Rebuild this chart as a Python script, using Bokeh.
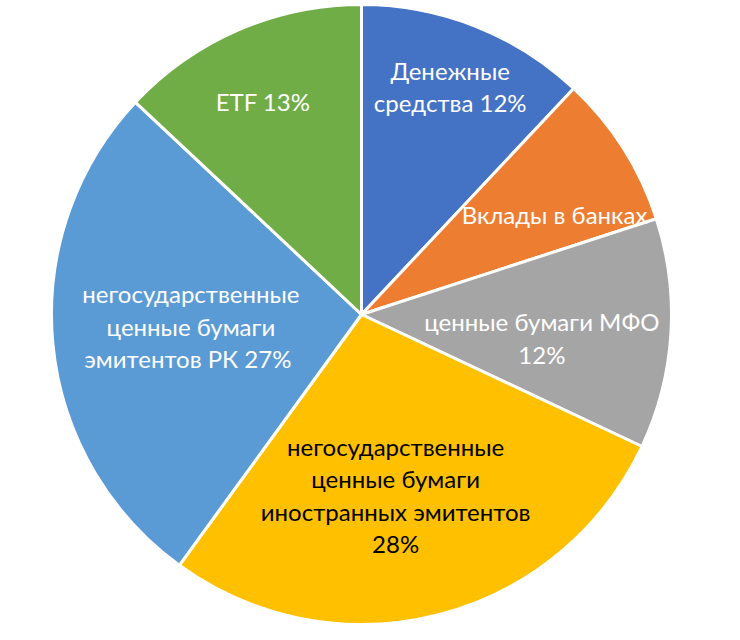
import math
from bokeh.plotting import figure
from bokeh.models import ColumnDataSource
from bokeh.core.properties import value
from bokeh.embed import file_html
from bokeh.resources import INLINE

# ---- data ----
categories = [
    "Денежные средства",
    "Вклады в банках",
    "ценные бумаги МФО",
    "негосударственные ценные бумаги иностранных эмитентов",
    "негосударственные ценные бумаги эмитентов РК",
    "ETF",
]
shares = [12, 8, 12, 28, 27, 13]
label_lines = [
    ["Денежные", "средства 12%"],
    ["Вклады в банках"],
    ["ценные бумаги МФО", "12%"],
    ["негосударственные", "ценные бумаги", "иностранных эмитентов", "28%"],
    ["негосударственные", "ценные бумаги", "эмитентов  РК 27%"],
    ["ETF 13%"],
]
colors = ["#4472C4", "#ED7D31", "#A5A5A5", "#FFC000", "#5B9BD5", "#70AD47"]
text_colors = ["white", "white", "white", "black", "white", "white"]

# ---- layout (pixels, y from top) ----
W, H = 724, 624
CX, CY_TOP = 361, 314
R = 310
REF_C = (361, 320)
REF_R = 318
label_centers_ref = [(452, 86), (559, 217), (546, 344), (396, 505), (186, 332), (260, 102)]
LINE_H = 32.5

p = figure(width=W, height=H, x_range=(0, W), y_range=(0, H),
           output_backend="svg", toolbar_location=None, min_border=0)
p.axis.visible = False
p.grid.visible = False
p.outline_line_color = None
p.background_fill_color = "white"

total = float(sum(shares))
starts, ends = [], []
cum = 0.0
for s in shares:
    a0 = math.pi / 2 - 2 * math.pi * cum / total
    cum += s
    a1 = math.pi / 2 - 2 * math.pi * cum / total
    starts.append(a0)
    ends.append(a1)

src = ColumnDataSource(dict(start=starts, end=ends, color=colors, cat=categories, share=shares))
p.wedge(x=CX, y=H - CY_TOP, radius=R, start_angle="start", end_angle="end", direction="clock",
        fill_color="color", line_color="white", line_width=3, source=src)

k = R / REF_R
tx, ty, tt, tc = [], [], [], []
for lines, (px, py), col in zip(label_lines, label_centers_ref, text_colors):
    n = len(lines)
    fx = CX + (px - REF_C[0]) * k
    fy_top = CY_TOP + (py - REF_C[1]) * k
    fy = H - fy_top
    for i, ln in enumerate(lines):
        tx.append(fx)
        ty.append(fy + ((n - 1) / 2 - i) * LINE_H)
        tt.append(ln)
        tc.append(col)

tsrc = ColumnDataSource(dict(x=tx, y=ty, text=tt, color=tc))
p.text(x="x", y="y", text="text", text_color="color", source=tsrc,
       text_align="center", text_baseline="middle",
       text_font=value("Lato"), text_font_size="24px")

open("out.html", "w").write(file_html(p, INLINE))
